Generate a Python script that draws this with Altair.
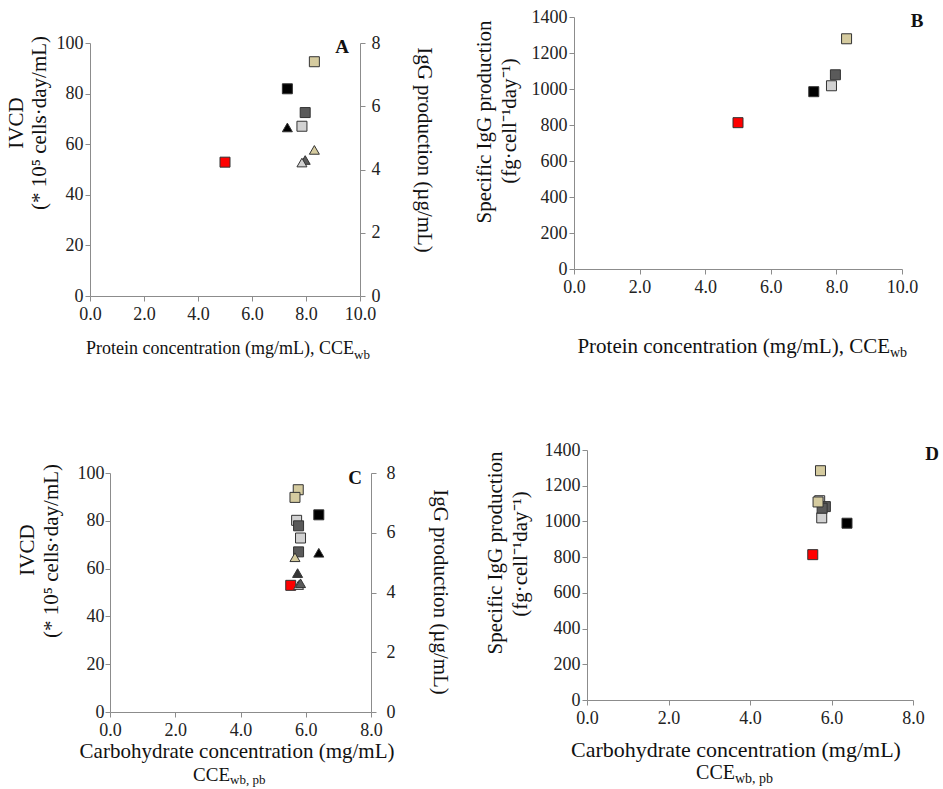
import altair as alt
import pandas as pd

FONT = "Liberation Serif"
AXC = "#8c8c8c"
LAB = "#222222"
TXT = "#111111"

# series identities and their colours
series_domain = ["S1", "S2", "S3", "S4", "S5", "S6"]
series_range = ["#ff0000", "#000000", "#5a5a5a", "#d2d2d2", "#d5cb9f", "#353535"]

# Panels A / B : protein concentration (CCE_wb)
ab_series = ["S1", "S2", "S3", "S4", "S5"]
ab_protein = [5.00, 7.31, 7.97, 7.85, 8.31]
a_ivcd = [52.9, 81.9, 72.5, 67.1, 92.6]
b_qp = [813, 985, 1079, 1018, 1279]
a_igg_series = ["S2", "S5", "S3", "S4"]
a_igg_protein = [7.31, 8.31, 7.97, 7.85]
a_igg = [5.33, 4.62, 4.30, 4.22]

# Panel C : carbohydrate concentration (CCE_wb, pb)
c_series = ["S1", "S2", "S4", "S3", "S4", "S3", "S5", "S5"]
c_carb = [5.54, 6.40, 5.72, 5.78, 5.84, 5.78, 5.77, 5.67]
c_ivcd = [53.0, 82.5, 80.2, 77.9, 72.8, 67.0, 93.0, 89.8]
c_igg_series = ["S2", "S5", "S6", "S4", "S3"]
c_igg_carb = [6.40, 5.67, 5.75, 5.78, 5.84]
c_igg = [5.33, 5.18, 4.65, 4.25, 4.31]

# Panel D
d_series = ["S1", "S2", "S4", "S4", "S3", "S3", "S5", "S5"]
d_carb = [5.54, 6.38, 5.76, 5.71, 5.85, 5.77, 5.73, 5.67]
d_qp = [814, 990, 1020, 1116, 1083, 1074, 1284, 1109]

x_ticks_10 = [0, 2, 4, 6, 8, 10]
x_ticks_8 = [0, 2, 4, 6, 8]
ivcd_ticks = [0, 20, 40, 60, 80, 100]
igg_ticks = [0, 2, 4, 6, 8]
qp_ticks = [0, 200, 400, 600, 800, 1000, 1200, 1400]

color = alt.Fill("series:N", scale=alt.Scale(domain=series_domain, range=series_range), legend=None)


def axis(orient, offset, values, fmt="d", pad=3):
    return alt.Axis(orient=orient, offset=offset, values=values, title=None, grid=False,
                    domainColor=AXC, tickColor=AXC, tickSize=5, domainWidth=1, tickWidth=1,
                    labelFont=FONT, labelFontSize=18, labelColor=LAB, labelPadding=pad,
                    labelFlush=False, labelOverlap=False, format=fmt)


def scale(dom, rng):
    return alt.Scale(domain=dom, range=rng, nice=False, zero=False)


def pts(df, xf, yf, xdom, xrng, ydom, yrng, shape, size, xax=None, yax=None):
    return alt.Chart(df).mark_point(shape=shape, filled=True, size=size, opacity=1,
                                    stroke="#333333", strokeWidth=1).encode(
        x=alt.X(f"{xf}:Q", scale=scale(xdom, xrng), axis=xax),
        y=alt.Y(f"{yf}:Q", scale=scale(ydom, yrng), axis=yax),
        fill=color,
    )


def txt(s, x, y, size, angle=0, align="center", baseline="middle", bold=False):
    return alt.Chart(pd.DataFrame({"t": [s]})).mark_text(
        font=FONT, fontSize=size, angle=angle, align=align, baseline=baseline,
        fontWeight="bold" if bold else "normal", color=TXT
    ).encode(text="t:N", x=alt.value(x), y=alt.value(y))


W, H = 943, 789

dfA = pd.DataFrame({"series": ab_series, "protein": ab_protein, "ivcd": a_ivcd, "qp": b_qp})
dfAt = pd.DataFrame({"series": a_igg_series, "protein": a_igg_protein, "igg": a_igg})
dfC = pd.DataFrame({"series": c_series, "carb": c_carb, "ivcd": c_ivcd})
dfCt = pd.DataFrame({"series": c_igg_series, "carb": c_igg_carb, "igg": c_igg})
dfD = pd.DataFrame({"series": d_series, "carb": d_carb, "qp": d_qp})

# panel geometry (axis pixel positions)
Ax, Ay = [90, 360], [296, 43]
Bx, By = [574, 902], [269, 17]
Cx, Cy = [110, 371], [712, 473]
Dx, Dy = [587, 913], [700, 450]

layers = [
    # Panel A
    pts(dfA, "protein", "ivcd", [0, 10], Ax, [0, 100], Ay, "square", 100,
        xax=axis("bottom", Ay[0] - H, x_ticks_10, ".1f", 4),
        yax=axis("left", -Ax[0], ivcd_ticks, "d", 2)),
    pts(dfAt, "protein", "igg", [0, 10], Ax, [0, 8], Ay, "triangle-up", 100,
        xax=None, yax=axis("right", Ax[1] - W, igg_ticks, "d", 6)),
    # Panel B
    pts(dfA, "protein", "qp", [0, 10], Bx, [0, 1400], By, "square", 100,
        xax=axis("bottom", By[0] - H, x_ticks_10, ".1f", 4),
        yax=axis("left", -Bx[0], qp_ticks, "d", 2)),
    # Panel C
    pts(dfC, "carb", "ivcd", [0, 8], Cx, [0, 100], Cy, "square", 100,
        xax=axis("bottom", Cy[0] - H, x_ticks_8, ".1f", 4),
        yax=axis("left", -Cx[0], ivcd_ticks, "d", 1)),
    pts(dfCt, "carb", "igg", [0, 8], Cx, [0, 8], Cy, "triangle-up", 100,
        xax=None, yax=axis("right", Cx[1] - W, igg_ticks, "d", 10)),
    # Panel D
    pts(dfD, "carb", "qp", [0, 8], Dx, [0, 1400], Dy, "square", 100,
        xax=axis("bottom", Dy[0] - H, x_ticks_8, ".1f", 4),
        yax=axis("left", -Dx[0], qp_ticks, "d", 2)),
    # Panel letters
    txt("A", 342, 47, 19, bold=True),
    txt("B", 917, 21, 19, bold=True),
    txt("C", 355, 478, 19, bold=True),
    txt("D", 932, 454, 19, bold=True),
    # Left titles
    txt("IVCD", 17, 123, 21, angle=270),
    txt("(* 10\u2075 cells\u00b7day/mL)", 40, 123, 21, angle=270),
    txt("Specific IgG production", 485, 122, 21, angle=270),
    txt("(fg\u00b7cell\u207b\u00b9day\u207b\u00b9)", 510, 121, 21, angle=270),
    txt("IVCD", 28, 550, 21, angle=270),
    txt("(* 10\u2075 cells\u00b7day/mL)", 52, 551, 21, angle=270),
    txt("Specific IgG production", 496, 553, 21, angle=270),
    txt("(fg\u00b7cell\u207b\u00b9day\u207b\u00b9)", 521, 554, 21, angle=270),
    # Right titles
    txt("IgG production (\u00b5g/mL)", 424, 150, 21, angle=90),
    txt("IgG production (\u00b5g/mL)", 440, 592, 21, angle=90),
    # X titles
    txt("Protein concentration (mg/mL), CCE", 354, 349, 18, align="right"),
    txt("wb", 354, 355, 13, align="left"),
    txt("Protein concentration (mg/mL), CCE", 890, 347, 21, align="right"),
    txt("wb", 890, 353, 14, align="left"),
    txt("Carbohydrate concentration (mg/mL)", 237, 752, 21),
    txt("CCE", 230, 775, 19, align="right"),
    txt("wb, pb", 230, 780, 13, align="left"),
    txt("Carbohydrate concentration (mg/mL)", 736, 750, 22),
    txt("CCE", 735, 773, 20, align="right"),
    txt("wb, pb", 735, 779, 14, align="left"),
]

chart = (
    alt.layer(*layers)
    .resolve_scale(x="independent", y="independent")
    .resolve_axis(x="independent", y="independent")
    .properties(width=W, height=H, autosize=alt.AutoSizeParams(type="none"), padding=0)
    .configure_view(stroke=None)
    .configure_axis(labelFont=FONT, labelFontSize=18)
)

chart.save("out.html", embed_options={"renderer": "svg", "actions": False})
